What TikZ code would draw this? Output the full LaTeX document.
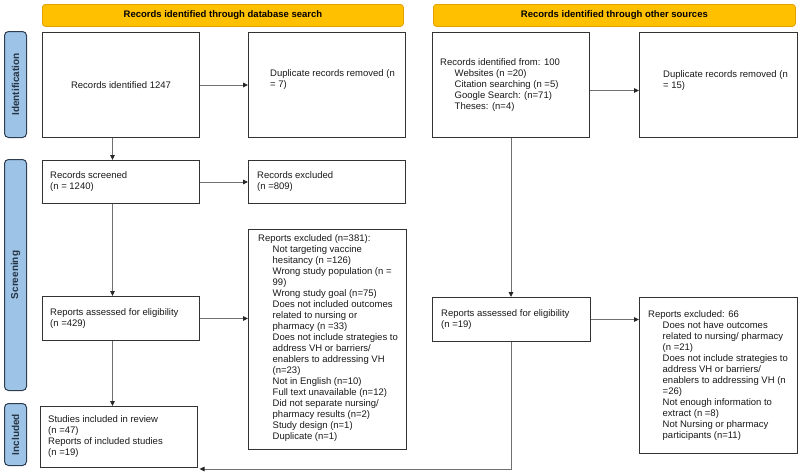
\documentclass[tikz,border=0pt]{standalone}
\usepackage{fontspec}
\setmainfont{Liberation Sans}
\usetikzlibrary{arrows.meta,calc}
\definecolor{hdrfill}{HTML}{FFC000}
\definecolor{hdrline}{HTML}{E3A200}
\definecolor{sidefill}{HTML}{9DC3E6}
\definecolor{sideline}{HTML}{2E3D4F}
\definecolor{boxline}{HTML}{333333}
\definecolor{conn}{HTML}{707070}
\newcommand\myind{\hspace*{14.5pt}}
\begin{document}
\begin{tikzpicture}[x=1pt,y=-1pt,
 hdr/.style={draw=hdrline, fill=hdrfill, rounded corners=3pt, line width=0.8pt, font=\fontsize{9.5}{11}\selectfont\bfseries, anchor=north west, inner sep=0pt},
 side/.style={draw=sideline, fill=sidefill, rounded corners=4pt, line width=1pt, anchor=north west, inner sep=0pt},
 sidetxt/.style={rotate=90, font=\fontsize{10}{12}\selectfont\bfseries, text=sideline!85!black, inner sep=0pt},
 box/.style={draw=boxline, line width=1pt, anchor=north west, inner sep=0pt, fill=white},
 txt/.style={font=\fontsize{9.5}{11}\selectfont, align=left, inner sep=0pt, text=black!90},
 arr/.style={draw=conn, line width=0.9pt, -{Triangle[length=5pt,width=4.5pt,color=black!85]}},
]
\useasboundingbox (0,0) rectangle (800,475);
% headers
\node[hdr, minimum width=361, minimum height=22] (h1) at (42,4) {Records identified through database search};
\node[hdr, minimum width=362, minimum height=22] (h2) at (433,4) {Records identified through other sources};
% side labels
\node[side, minimum width=22, minimum height=106] (s1) at (4,31) {};
\node[sidetxt] (s1t) at (s1) {Identification};
\node[side, minimum width=22, minimum height=231] (s2) at (4,159) {};
\node[sidetxt] (s2t) at (s2) {Screening};
\node[side, minimum width=22, minimum height=62] (s3) at (4,403) {};
\node[sidetxt] (s3t) at (s3) {Included};
% boxes
\node[box, minimum width=157, minimum height=105] (b1) at (42,32) {};
\node[txt] (b1t) at (b1) {Records identified 1247};
\node[box, minimum width=157, minimum height=105] (d1) at (248,32) {};
\node[txt, anchor=west] (d1t) at ([xshift=22,yshift=5]d1.west) {Duplicate records removed (n\\= 7)};
\node[box, minimum width=157, minimum height=105] (src) at (432,32) {};
\node[txt, anchor=west] (srct) at ([xshift=8]src.west) {Records identified from: 100\\
\myind Websites (n =20)\\
\myind Citation searching (n =5)\\
\myind Google Search: (n=71)\\
\myind Theses: (n=4)};
\node[box, minimum width=158, minimum height=105] (d2) at (639,32) {};
\node[txt, anchor=west] (d2t) at ([xshift=24,yshift=4]d2.west) {Duplicate records removed (n\\= 15)};
\node[box, minimum width=157, minimum height=43] (scr) at (42,160) {};
\node[txt, anchor=west] (scrt) at ([xshift=8]scr.west) {Records screened\\(n = 1240)};
\node[box, minimum width=157, minimum height=43] (ex1) at (248,160) {};
\node[txt, anchor=west] (ex1t) at ([xshift=9]ex1.west) {Records excluded\\(n =809)};
\node[box, minimum width=158, minimum height=220] (ex2) at (248,229) {};
\node[txt, anchor=west] (ex2t) at ([xshift=10,yshift=1.5]ex2.west) {Reports excluded (n=381):\\
\myind Not targeting vaccine\\
\myind hesitancy (n =126)\\
\myind Wrong study population (n =\\
\myind 99)\\
\myind Wrong study goal (n=75)\\
\myind Does not included outcomes\\
\myind related to nursing or\\
\myind pharmacy (n =33)\\
\myind Does not include strategies to\\
\myind address VH or barriers/\\
\myind enablers to addressing VH\\
\myind (n=23)\\
\myind Not in English (n=10)\\
\myind Full text unavailable (n=12)\\
\myind Did not separate nursing/\\
\myind pharmacy results (n=2)\\
\myind Study design (n=1)\\
\myind Duplicate (n=1)};
\node[box, minimum width=157, minimum height=44] (as1) at (42,296) {};
\node[txt, anchor=west] (as1t) at ([xshift=8]as1.west) {Reports assessed for eligibility\\(n =429)};
\node[box, minimum width=157, minimum height=61] (st) at (40,406) {};
\node[txt, anchor=west] (stt) at ([xshift=8]st.west) {Studies included in review\\(n =47)\\Reports of included studies\\(n =19)};
\node[box, minimum width=158, minimum height=44] (as2) at (432,297) {};
\node[txt, anchor=west] (as2t) at ([xshift=9]as2.west) {Reports assessed for eligibility\\(n =19)};
\node[box, minimum width=158, minimum height=156] (ex3) at (639,297) {};
\node[txt, anchor=west] (ex3t) at ([xshift=9]ex3.west) {Reports excluded: 66\\
\myind Does not have outcomes\\
\myind related to nursing/ pharmacy\\
\myind (n =21)\\
\myind Does not include strategies to\\
\myind address VH or barriers/\\
\myind enablers to addressing VH (n\\
\myind =26)\\
\myind Not enough information to\\
\myind extract (n =8)\\
\myind Not Nursing or pharmacy\\
\myind participants (n=11)};
% connectors
\coordinate (v1) at ([xshift=-8.5]b1.south);
\coordinate (v2) at ([xshift=-8.5]scr.south);
\coordinate (v3) at ([xshift=-8.5]as1.south);
\coordinate (endst) at ([xshift=1.5,yshift=-1]st.south east);
\draw[arr] (b1.east) -- (d1.west);
\draw[arr] (v1) -- (v1 |- scr.north);
\draw[arr] (scr.east) -- (ex1.west);
\draw[arr] (v2) -- (v2 |- as1.north);
\draw[arr] (as1.east) -- (as1.east -| ex2.west);
\draw[arr] (v3) -- (v3 |- st.north);
\draw[arr] ([yshift=-5.5]src.east) -- ([yshift=-5.5]d2.west);
\draw[arr] (src.south) -- (src.south |- as2.north);
\draw[arr] (as2.east) -- (as2.east -| ex3.west);
\draw[arr] (as2.south) |- (endst);
\end{tikzpicture}
\end{document}
